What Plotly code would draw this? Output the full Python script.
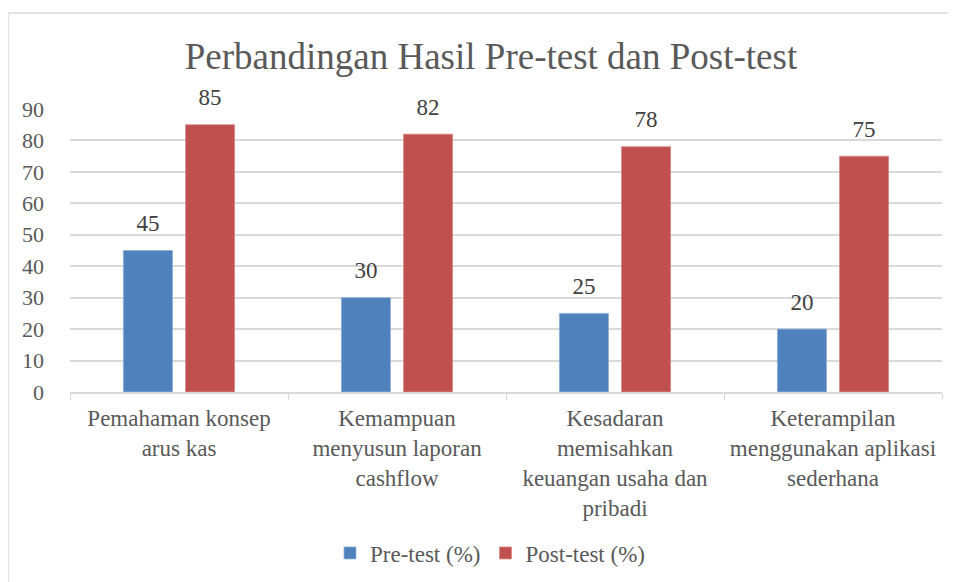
import plotly.graph_objects as go

categories = [
    "Pemahaman konsep<br>arus kas",
    "Kemampuan<br>menyusun laporan<br>cashflow",
    "Kesadaran<br>memisahkan<br>keuangan usaha dan<br>pribadi",
    "Keterampilan<br>menggunakan aplikasi<br>sederhana",
]
pre_test = [45, 30, 25, 20]
post_test = [85, 82, 78, 75]
y_ticks = [0, 10, 20, 30, 40, 50, 60, 70, 80, 90]

FONT = "'Times New Roman', 'Liberation Serif', 'DejaVu Serif', serif"
TXT = "#595959"
GRID = "#D9D9D9"
OFF = 8  # page body margin offset
BARGAP = 0.43

fig = go.Figure()
series = [
    ("Pre-test (%)", pre_test, "#4F81BD", "#8FB0D8"),
    ("Post-test (%)", post_test, "#C0504D", "#D98B89"),
]
for name, vals, col, edge in series:
    fig.add_trace(go.Bar(
        name=name, x=categories, y=vals,
        marker=dict(color=col, line=dict(color=edge, width=0.8)),
        hoverinfo="x+y",
    ))
# data labels (grouped scatter aligned with the bars)
for name, vals, col, edge in series:
    fig.add_trace(go.Scatter(
        x=categories, y=vals, mode="markers+text", text=[str(v) for v in vals],
        textposition="top center", cliponaxis=False, showlegend=False,
        marker=dict(size=20, opacity=0), hoverinfo="skip",
        textfont=dict(family=FONT, size=23, color="#404040"),
    ))

W, H = 956, 582
L = 70 - OFF
T = 109 - OFF
R = W - (942 - OFF)
B = H - (392 - OFF)
pw = W - L - R
ph = H - T - B

fig.update_layout(
    width=W, height=H,
    margin=dict(l=L, r=R, t=T, b=B, pad=0),
    paper_bgcolor="white", plot_bgcolor="white",
    font=dict(family=FONT, size=23, color=TXT),
    barmode="group", bargap=BARGAP, bargroupgap=0.21,
    scattermode="group", scattergap=BARGAP,
    title=dict(text="Perbandingan Hasil Pre-test dan Post-test",
               x=(491 - OFF) / W, xref="container", xanchor="center",
               y=1 - (56 - OFF) / H, yref="container", yanchor="middle",
               font=dict(family=FONT, size=37, color=TXT)),
    showlegend=True,
    legend=dict(orientation="h", x=(490 - 70) / pw, xanchor="center",
                y=(392 - 553) / ph, yanchor="middle",
                font=dict(family=FONT, size=23, color=TXT),
                itemwidth=30, traceorder="normal"),
    xaxis=dict(type="category", tickson="boundaries", ticks="outside",
               ticklen=6, tickcolor=GRID, showline=True, linecolor=GRID,
               linewidth=1.5, showgrid=False, ticklabelstandoff=5,
               tickfont=dict(family=FONT, size=23, color=TXT)),
    yaxis=dict(range=[0, 90], tickvals=y_ticks, showgrid=True, gridcolor=GRID,
               gridwidth=1.5, zeroline=False, showline=False, ticks="",
               ticklabelstandoff=25, tickfont=dict(family=FONT, size=22, color=TXT)),
)

# outer chart border (top and left edges visible)
x_left = (8 - 70) / pw
y_top = (392 - 13) / ph
fig.add_shape(type="line", xref="paper", yref="paper",
              x0=x_left, x1=x_left, y0=y_top, y1=-2.0,
              line=dict(color=GRID, width=1.5))
fig.add_shape(type="line", xref="paper", yref="paper",
              x0=x_left, x1=2.0, y0=y_top, y1=y_top,
              line=dict(color=GRID, width=1.5))

fig.write_html("out.html")
